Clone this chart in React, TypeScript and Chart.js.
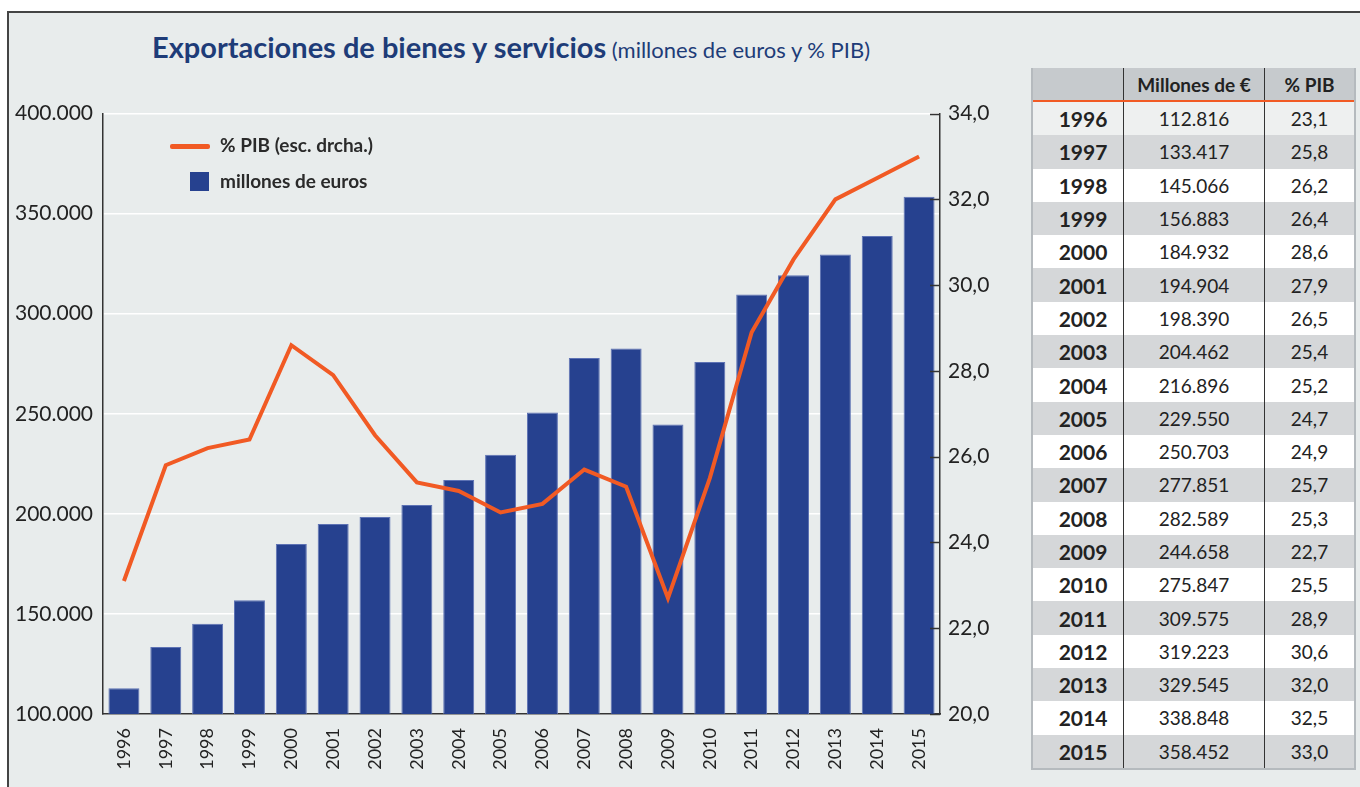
import React, { useEffect, useRef } from "react";
import { Chart, registerables } from "chart.js";

Chart.register(...registerables);

const years = ["1996","1997","1998","1999","2000","2001","2002","2003","2004","2005","2006","2007","2008","2009","2010","2011","2012","2013","2014","2015"];
const exportsMillions = [112816,133417,145066,156883,184932,194904,198390,204462,216896,229550,250703,277851,282589,244658,275847,309575,319223,329545,338848,358452];
const pctGDP = [23.1,25.8,26.2,26.4,28.6,27.9,26.5,25.4,25.2,24.7,24.9,25.7,25.3,22.7,25.5,28.9,30.6,32.0,32.5,33.0];
const tableHeaders = ["", "Millones de €", "% PIB"];

const FONT = "Lato, 'Open Sans', sans-serif";
const BLUE = "#26418f";
const ORANGE = "#f15a24";
const BG = "#e8ecec";

const fmtThousands = (v: number) => v.toLocaleString("de-DE");
const fmtPct = (v: number) => v.toFixed(1).replace(".", ",");

const CANVAS_W = 1020;
const CANVAS_H = 696;
const CANVAS_TOP = 91;

const innerTicks = {
  id: "innerTicks",
  afterDraw(chart: any) {
    const s = chart.scales.y1;
    if (!s) return;
    const ctx = chart.ctx;
    ctx.save();
    ctx.strokeStyle = "#333";
    ctx.lineWidth = 1.5;
    s.ticks.forEach((t: any) => {
      const y = Math.round(s.getPixelForValue(t.value)) + 0.5;
      ctx.beginPath();
      ctx.moveTo(s.left - 10, y);
      ctx.lineTo(s.left, y);
      ctx.stroke();
    });
    ctx.restore();
  },
};

function ExportsChart() {
  const ref = useRef<HTMLCanvasElement | null>(null);
  useEffect(() => {
    if (!ref.current) return;
    const chart = new Chart(ref.current, {
      type: "bar",
      data: {
        labels: years,
        datasets: [
          {
            type: "line",
            label: "% PIB (esc. drcha.)",
            data: pctGDP,
            yAxisID: "y1",
            borderColor: ORANGE,
            backgroundColor: ORANGE,
            borderWidth: 4,
            pointRadius: 0,
            tension: 0,
            order: 0,
          } as any,
          {
            type: "bar",
            label: "millones de euros",
            data: exportsMillions,
            yAxisID: "y",
            backgroundColor: BLUE,
            borderColor: "#5d72b4",
            borderWidth: 1,
            barPercentage: 0.74,
            categoryPercentage: 1,
            order: 1,
          } as any,
        ],
      },
      options: {
        responsive: false,
        animation: false,
        devicePixelRatio: 1,
        layout: { padding: { top: 13, left: 0, right: 0, bottom: 0 } },
        plugins: {
          legend: { display: false },
          title: { display: false },
          tooltip: { enabled: false },
        },
        scales: {
          x: {
            grid: { display: false },
            border: { display: true, color: "#333", width: 1.5 },
            ticks: {
              color: "#222",
              font: { family: FONT, size: 18 },
              minRotation: 90,
              maxRotation: 90,
              padding: 6,
              autoSkip: false,
            },
            afterFit: (s: any) => { s.height = 73; },
          },
          y: {
            position: "left",
            min: 100000,
            max: 400000,
            ticks: {
              stepSize: 50000,
              color: "#222",
              font: { family: FONT, size: 21 },
              padding: 10,
              callback: (v: any) => fmtThousands(Number(v)),
            },
            grid: { color: "#ffffff", lineWidth: 1.5, drawTicks: false },
            border: { display: true, color: "#333", width: 1.5 },
            afterFit: (s: any) => { s.width = 103; },
          },
          y1: {
            position: "right",
            min: 20,
            max: 34,
            ticks: {
              stepSize: 2,
              color: "#222",
              font: { family: FONT, size: 21 },
              padding: 8,
              callback: (v: any) => fmtPct(Number(v)),
            },
            grid: { drawOnChartArea: false, drawTicks: false },
            border: { display: true, color: "#333", width: 1.5 },
            afterFit: (s: any) => { s.width = 80; },
          },
        },
      },
      plugins: [innerTicks],
    });
    return () => chart.destroy();
  }, []);
  return (
    <canvas
      ref={ref}
      width={CANVAS_W}
      height={CANVAS_H}
      style={{ position: "absolute", left: 0, top: CANVAS_TOP, width: CANVAS_W, height: CANVAS_H }}
    />
  );
}

function DataTable() {
  const rowH = 33.3;
  const colW = [90, 141, 90];
  const cell = (w: number, extra: React.CSSProperties = {}): React.CSSProperties => ({
    width: w,
    display: "flex",
    alignItems: "center",
    justifyContent: "center",
    boxSizing: "border-box",
    ...extra,
  });
  return (
    <div
      style={{
        position: "absolute",
        left: 1031,
        top: 68,
        width: 321,
        fontFamily: FONT,
        color: "#222",
        borderLeft: "2px solid #b5babe",
        borderRight: "2px solid #b5babe",
        borderBottom: "2px solid #b5babe",
        boxSizing: "content-box",
      }}
    >
      <div style={{ display: "flex", height: 32, background: "#c6cacd", borderBottom: `2.5px solid ${ORANGE}`, fontWeight: 700, fontSize: 19 }}>
        {tableHeaders.map((h, i) => (
          <div key={i} style={cell(colW[i], { borderLeft: i > 0 ? "1px solid #333" : "none" })}>{h}</div>
        ))}
      </div>
      {years.map((y, r) => {
        const bg = r === 0 ? "#eef0f0" : r % 2 === 1 ? "#d5d7d9" : "#ffffff";
        return (
          <div key={y} style={{ display: "flex", height: rowH, background: bg }}>
            <div style={cell(colW[0], { fontWeight: 700, fontSize: 21, paddingLeft: 10 })}>{y}</div>
            <div style={cell(colW[1], { borderLeft: "1px solid #333", fontSize: 19 })}>{fmtThousands(exportsMillions[r])}</div>
            <div style={cell(colW[2], { borderLeft: "1px solid #333", fontSize: 19 })}>{fmtPct(pctGDP[r])}</div>
          </div>
        );
      })}
    </div>
  );
}

export default function App() {
  return (
    <div style={{ position: "absolute", left: 0, top: 0, width: 1360, height: 787, background: "#fff", overflow: "hidden", fontFamily: FONT }}>
      <div
        style={{
          position: "absolute",
          left: 7,
          top: 11,
          width: 1400,
          height: 800,
          background: BG,
          borderLeft: "2px solid #444",
          borderTop: "2px solid #444",
        }}
      />
      <div style={{ position: "absolute", left: 152, top: 29, whiteSpace: "nowrap", color: "#1e3c78", lineHeight: "36px" }}>
        <span style={{ fontWeight: 700, fontSize: 29 }}>Exportaciones de bienes y servicios</span>
        <span style={{ fontSize: 22 }}> (millones de euros y % PIB)</span>
      </div>
      <ExportsChart />
      <div style={{ position: "absolute", left: 170, top: 144, width: 40, height: 4.5, background: ORANGE, borderRadius: 2 }} />
      <div style={{ position: "absolute", left: 220, top: 133, fontWeight: 700, fontSize: 19, color: "#2a2a2a", whiteSpace: "nowrap" }}>% PIB (esc. drcha.)</div>
      <div style={{ position: "absolute", left: 190, top: 172, width: 19, height: 19, background: BLUE }} />
      <div style={{ position: "absolute", left: 220, top: 169, fontWeight: 700, fontSize: 19, color: "#2a2a2a", whiteSpace: "nowrap" }}>millones de euros</div>
      <DataTable />
    </div>
  );
}
